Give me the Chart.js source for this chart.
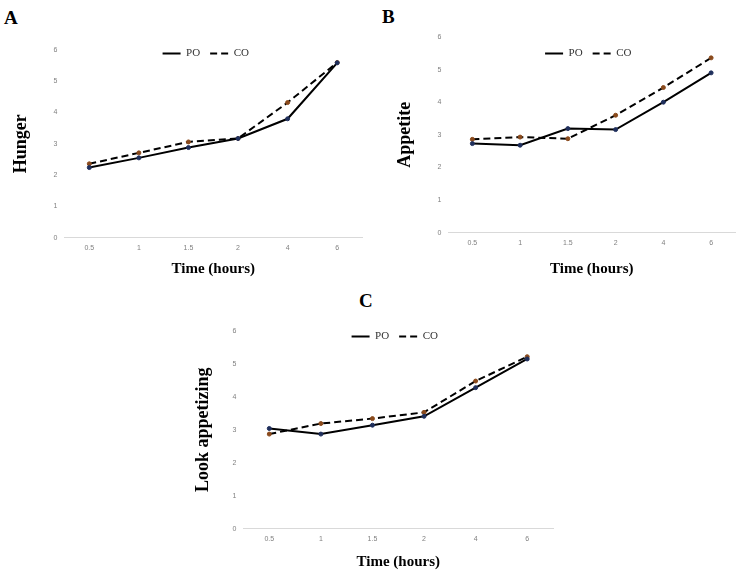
<!DOCTYPE html>
<html>
<head>
<meta charset="utf-8">
<script src="https://cdn.jsdelivr.net/npm/chart.js@4.4.1/dist/chart.umd.min.js"></script>
<style>
    html, body { margin: 0; padding: 0; background: #fff; }
    body { width: 740px; height: 580px; position: relative; overflow: hidden; font-family: 'Liberation Serif', serif; }
    .panel { position: absolute; }
    .letra { position: absolute; font-weight: bold; font-size: 19px; line-height: 1; color: #000; }
</style>
</head>
<body>
<div class="letra" style="left:4px; top:8px;">A</div>
<div class="letra" style="left:382px; top:7px;">B</div>
<div class="letra" style="left:359px; top:291px;">C</div>

<div class="panel" style="left:0; top:0;"><canvas id="chartHunger" width="370" height="290"></canvas></div>
<div class="panel" style="left:370px; top:0;"><canvas id="chartAppetite" width="370" height="290"></canvas></div>
<div class="panel" style="left:180px; top:285px;"><canvas id="chartLook" width="380" height="295"></canvas></div>

<script>
// Datos
const timeLabels = ['0.5', '1', '1.5', '2', '4', '6'];
const hungerPO = [2.24, 2.55, 2.88, 3.17, 3.80, 5.59];
const hungerCO = [2.36, 2.71, 3.06, 3.17, 4.32, 5.60];
const appetitePO = [2.73, 2.68, 3.19, 3.16, 4.00, 4.90];
const appetiteCO = [2.86, 2.93, 2.88, 3.60, 4.45, 5.36];
const lookPO = [3.04, 2.87, 3.14, 3.41, 4.28, 5.15];
const lookCO = [2.87, 3.19, 3.34, 3.53, 4.48, 5.22];
const yMin = 0;
const yMax = 6;

// Mueve la leyenda dentro del área del gráfico
const legendaDentro = {
    id: 'legendaDentro',
    afterLayout: function(chart, args, opts) {
        const lg = chart.legend;
        const ca = chart.chartArea;
        if (!lg) return;
        const h = lg.bottom - lg.top;
        lg.top = ca.top + (opts.dy || 0);
        lg.bottom = lg.top + h;
        lg.left = ca.left + (opts.dx || 0);
        lg.right = ca.right + (opts.dx || 0);
    }
};

const panelModule = {
    colors: {
        linea: '#000000',
        po: '#1f2f5c',
        co: '#8a4a1c',
        ejeX: '#d9d9d9',
        ticks: '#808080'
    },

    init: function() {
        this.renderChart('chartHunger', hungerPO, hungerCO, 'Hunger',
            { padding: { left: 11, right: 8, top: 19, bottom: 12 }, yTitlePad: 14, xTitlePad: 2, dx: -7.5, dy: -12 });
        this.renderChart('chartAppetite', appetitePO, appetiteCO, 'Appetite',
            { padding: { left: 25, right: 0, top: 6, bottom: 12 }, yTitlePad: 14, xTitlePad: 7, dx: -3.5, dy: 1 });
        this.renderChart('chartLook', lookPO, lookCO, 'Look appetizing',
            { padding: { left: 13, right: 7, top: 15, bottom: 9 }, yTitlePad: 11, xTitlePad: 4, dx: -3.5, dy: -10 });
    },

    // Las entradas de leyenda copian el trazo de la línea (no el del punto)
    leyendaLineas: function(chart) {
        const items = Chart.defaults.plugins.legend.labels.generateLabels(chart);
        items.forEach(item => {
            const ds = chart.data.datasets[item.datasetIndex];
            item.strokeStyle = ds.borderColor;
            item.fillStyle = ds.borderColor;
            item.lineWidth = ds.borderWidth;
            item.lineDash = ds.borderDash || [];
            item.pointStyle = 'line';
        });
        return items;
    },

    renderChart: function(canvasId, poData, coData, yTitle, ajustes) {
        const ctx = document.getElementById(canvasId).getContext('2d');
        return new Chart(ctx, {
            type: 'line',
            data: {
                labels: timeLabels,
                datasets: [{
                    label: 'PO',
                    data: poData,
                    borderColor: this.colors.linea,
                    borderWidth: 2,
                    pointRadius: 2,
                    pointBorderWidth: 1,
                    pointBackgroundColor: this.colors.po,
                    pointBorderColor: this.colors.po,
                    tension: 0
                }, {
                    label: 'CO',
                    data: coData,
                    borderColor: this.colors.linea,
                    borderWidth: 2,
                    borderDash: [7, 4],
                    pointRadius: 2,
                    pointBorderWidth: 1,
                    pointBackgroundColor: this.colors.co,
                    pointBorderColor: this.colors.co,
                    tension: 0
                }]
            },
            options: {
                responsive: false,
                animation: false,
                layout: { padding: ajustes.padding },
                scales: {
                    x: {
                        offset: true,
                        grid: { display: false, drawTicks: false },
                        border: { color: this.colors.ejeX, width: 1 },
                        ticks: { color: this.colors.ticks, font: { size: 7, family: 'Liberation Sans' }, padding: 6, maxRotation: 0 },
                        title: {
                            display: true,
                            text: 'Time (hours)',
                            color: '#000',
                            font: { family: 'Liberation Serif', size: 15, weight: 'bold' },
                            padding: { top: ajustes.xTitlePad, bottom: 0 }
                        }
                    },
                    y: {
                        min: yMin,
                        max: yMax,
                        grid: { display: false, drawTicks: false },
                        border: { display: false },
                        ticks: { stepSize: 1, color: this.colors.ticks, font: { size: 7, family: 'Liberation Sans' }, padding: 7 },
                        title: {
                            display: true,
                            text: yTitle,
                            color: '#000',
                            font: { family: 'Liberation Serif', size: 18, weight: 'bold' },
                            padding: { top: 0, bottom: ajustes.yTitlePad }
                        }
                    }
                },
                plugins: {
                    legend: {
                        position: 'top',
                        labels: {
                            usePointStyle: true,
                            pointStyle: 'line',
                            pointStyleWidth: 18,
                            padding: 10,
                            color: '#333',
                            font: { family: 'Liberation Serif', size: 11 },
                            generateLabels: this.leyendaLineas
                        }
                    },
                    tooltip: { enabled: false },
                    legendaDentro: { dx: ajustes.dx, dy: ajustes.dy }
                }
            },
            plugins: [legendaDentro]
        });
    }
};

panelModule.init();
</script>
</body>
</html>
